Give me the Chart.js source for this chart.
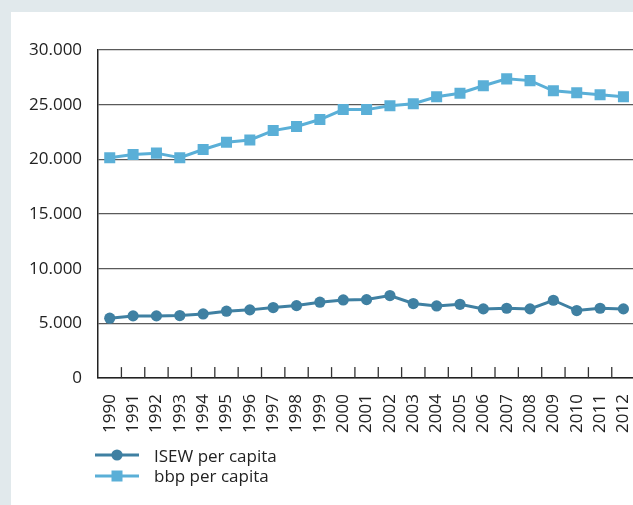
<!DOCTYPE html>
<html>
<head>
<meta charset="utf-8">
<script src="https://cdn.jsdelivr.net/npm/chart.js@4"></script>
<style>
  html, body { margin: 0; padding: 0; }
  body { width: 633px; height: 505px; background: #e1e9ec; position: relative; overflow: hidden; font-family: "Open Sans", sans-serif; }
  #panel { position: absolute; left: 11px; top: 12px; width: 622px; height: 493px; background: #fff; overflow: hidden; }
  #wrap { position: absolute; left: 0; top: 0; width: 649px; height: 459px; }
  #legend { position: absolute; left: 84px; top: 433px; font-size: 17px; color: #222; }
  .row { display: flex; align-items: center; height: 20.5px; }
  .row svg { margin-right: 15px; }
</style>
</head>
<body>
<div id="panel">
  <div id="wrap"><canvas id="chart"></canvas></div>
  <div id="legend"></div>
</div>
<script>
// ---- data ----
const years = ["1990", "1991", "1992", "1993", "1994", "1995", "1996", "1997", "1998", "1999", "2000", "2001",
  "2002", "2003", "2004", "2005", "2006", "2007", "2008", "2009", "2010", "2011", "2012"];
const isewPerCapita = [5480, 5690, 5690, 5720, 5870, 6120, 6240, 6450, 6630, 6940, 7150, 7180,
  7550, 6820, 6600, 6750, 6330, 6390, 6330, 7120, 6180, 6390, 6330];
const bbpPerCapita = [20150, 20450, 20570, 20150, 20900, 21570, 21780, 22630, 23000, 23640, 24550, 24550,
  24900, 25090, 25730, 26050, 26730, 27360, 27200, 26270, 26090, 25900, 25730];
const seriesNames = ["ISEW per capita", "bbp per capita"];
const yMin = 0, yMax = 30000, yStep = 5000;

const isewColor = "#3f80a2";
const bbpColor = "#5aafd7";

function dotted(v) {
  return String(v).replace(/\B(?=(\d{3})+(?!\d))/g, ".");
}

// short inward ticks between the categories on the x axis
const innerTicks = {
  id: "innerTicks",
  afterDraw(chart) {
    const x = chart.scales.x, ctx = chart.ctx, bottom = chart.chartArea.bottom;
    ctx.save();
    ctx.strokeStyle = "#333";
    ctx.lineWidth = 1.3;
    for (let i = 0; i < years.length; i++) {
      const edge = x.getPixelForValue(i) + (x.getPixelForValue(1) - x.getPixelForValue(0)) / 2;
      ctx.beginPath();
      ctx.moveTo(edge, bottom);
      ctx.lineTo(edge, bottom - 11);
      ctx.stroke();
    }
    ctx.restore();
  }
};

const chart = new Chart(document.getElementById("chart"), {
  type: "line",
  data: {
    labels: years,
    datasets: [
      {
        label: seriesNames[0],
        data: isewPerCapita,
        borderColor: isewColor,
        backgroundColor: isewColor,
        borderWidth: 3,
        pointStyle: "circle",
        pointRadius: 5.6,
        pointBorderWidth: 0,
        pointHoverRadius: 5.6
      },
      {
        label: seriesNames[1],
        data: bbpPerCapita,
        borderColor: bbpColor,
        backgroundColor: bbpColor,
        borderWidth: 3,
        pointStyle: "rect",
        pointRadius: 7.8,
        pointBorderWidth: 0,
        pointHoverRadius: 7.8
      }
    ]
  },
  options: {
    responsive: true,
    maintainAspectRatio: false,
    animation: false,
    layout: { padding: { left: 2, top: 38, right: 0, bottom: 22 } },
    plugins: { legend: { display: false }, tooltip: { enabled: false } },
    scales: {
      x: {
        offset: true,
        grid: { display: false, drawTicks: false },
        border: { display: true, color: "#222", width: 1.5 },
        ticks: {
          minRotation: 90, maxRotation: 90, padding: 16, autoSkip: false,
          color: "#222", font: { family: "Open Sans", size: 17 }
        }
      },
      y: {
        min: yMin, max: yMax,
        grid: { color: "#5a5a5a", lineWidth: 1.3, drawTicks: false },
        border: { display: true, color: "#222", width: 1.5 },
        ticks: {
          stepSize: yStep, padding: 16, color: "#222",
          font: { family: "Open Sans", size: 17 },
          callback: v => dotted(v)
        }
      }
    }
  },
  plugins: [innerTicks]
});

// legend with line + marker
const legend = document.getElementById("legend");
chart.data.datasets.forEach(ds => {
  const mark = ds.pointStyle === "rect"
    ? `<rect x="16.5" y="5.5" width="11" height="11" fill="${ds.borderColor}"/>`
    : `<circle cx="22" cy="11" r="5.6" fill="${ds.borderColor}"/>`;
  const row = document.createElement("div");
  row.className = "row";
  row.innerHTML = `<svg width="44" height="22"><line x1="0" y1="11" x2="44" y2="11" stroke="${ds.borderColor}" stroke-width="3"/>${mark}</svg><span>${ds.label}</span>`;
  legend.appendChild(row);
});
</script>
</body>
</html>
